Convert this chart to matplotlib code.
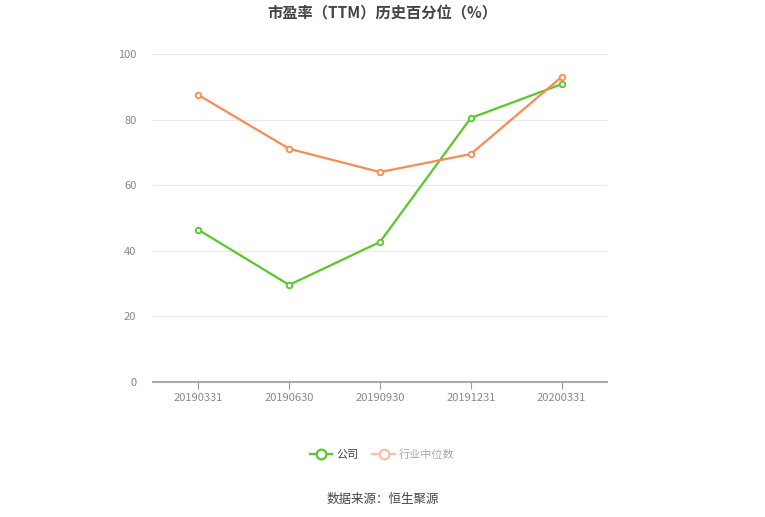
import matplotlib.pyplot as plt
from matplotlib.lines import Line2D

plt.rcParams['font.family'] = ['Noto Sans CJK SC', 'DejaVu Sans']

# data
quarters = ["20190331", "20190630", "20190930", "20191231", "20200331"]
company = [46.4, 29.6, 42.7, 80.5, 90.8]
industry_median = [87.5, 71.1, 64.0, 69.5, 93.0]
y_ticks = [0, 20, 40, 60, 80, 100]

green = '#5ac72a'
orange = '#fc8a52'

fig = plt.figure(figsize=(7.65, 5.17), dpi=100)
ax = fig.add_axes([153 / 765, 1 - 382 / 517, 454 / 765, 328 / 517])

x = range(len(quarters))
ax.plot(x, company, color=green, lw=1.6, marker='o', ms=4, mfc='white', mec=green, mew=1.3, zorder=3)
ax.plot(x, industry_median, color=orange, lw=1.6, marker='o', ms=4, mfc='white', mec=orange, mew=1.3, zorder=3)

ax.set_xlim(-0.5, len(quarters) - 0.5)
ax.set_ylim(0, 100)
ax.set_yticks(y_ticks)
ax.set_xticks(list(x))
ax.set_xticklabels(quarters)
ax.grid(axis='y', color='#e8e8ee', lw=0.8)
ax.set_axisbelow(True)
for s in ['top', 'right', 'left']:
    ax.spines[s].set_visible(False)
ax.spines['bottom'].set_color('#999999')
ax.spines['bottom'].set_linewidth(1.2)
ax.tick_params(axis='y', length=0, labelsize=8, labelcolor='#888888', pad=12)
ax.tick_params(axis='x', length=5, color='#999999', labelsize=8, labelcolor='#888888', pad=3)

fig.text(0.5, 1 - 13 / 517, '市盈率（TTM）历史百分位（%）', ha='center', va='center',
         fontsize=11, fontweight='bold', color='#444444')

handles = [
    Line2D([], [], color=green, lw=1.6, marker='o', ms=7, mfc='white', mec=green, mew=1.6),
    Line2D([], [], color='#fdbfa0', lw=1.6, marker='o', ms=7, mfc='white', mec='#fdbfa0', mew=1.6),
]
leg = fig.legend(handles, ['公司', '行业中位数'], loc='center', bbox_to_anchor=(0.5, 1 - 455 / 517),
                 ncol=2, frameon=False, fontsize=8, handlelength=2.0, columnspacing=1.2, handletextpad=0.4)
leg.get_texts()[0].set_color('#444444')
leg.get_texts()[1].set_color('#aaaaaa')

fig.text(0.5, 1 - 499 / 517, '数据来源：恒生聚源', ha='center', va='center', fontsize=9, color='#444444')

fig.savefig('out.png', dpi=100)
